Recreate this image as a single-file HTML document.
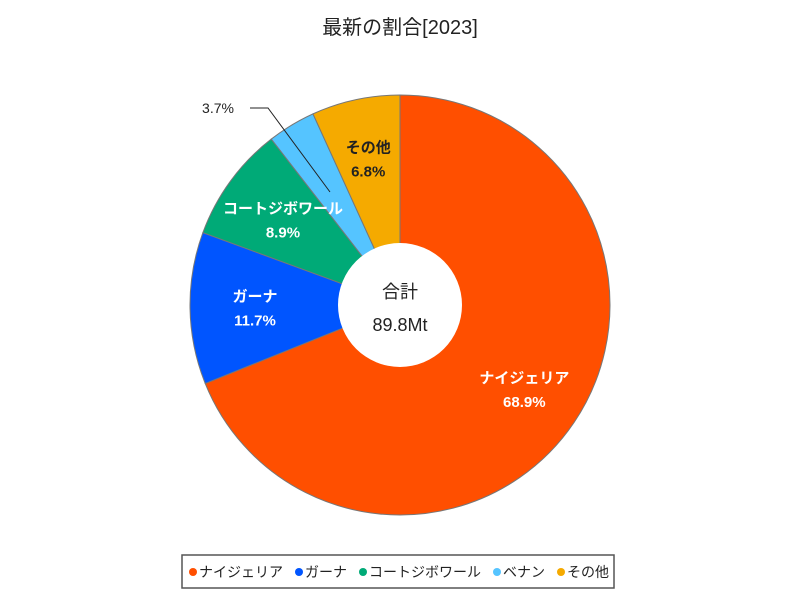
<!DOCTYPE html>
<html><head><meta charset="utf-8"><style>
body{margin:0;background:#fff;font-family:"Liberation Sans","Noto Sans CJK JP",sans-serif}
#wrap{position:relative;width:800px;height:600px}
</style></head><body><div id="wrap">
<svg id="svg" width="800" height="600">
<text x="400" y="34" text-anchor="middle" font-size="20" fill="#222">最新の割合[2023]</text>
<g id="slices"></g>
<circle cx="400" cy="305" r="62" fill="#fff"/>
<text x="400" y="298" text-anchor="middle" font-size="18" fill="#222">合計</text>
<text x="400" y="331" text-anchor="middle" font-size="18" fill="#222">89.8Mt</text>
<polyline points="250,108 268,108 330,192" fill="none" stroke="#222" stroke-width="1"/>
<text x="218" y="113" text-anchor="middle" font-size="14" fill="#222">3.7%</text>
<g id="labels"></g>
<rect x="182" y="555" width="432" height="33" fill="#fff" stroke="#555" stroke-width="1.5"/>
<g id="legend"></g>
</svg></div>
<script>
const categories=["ナイジェリア","ガーナ","コートジボワール","ベナン","その他"];
const values=[68.9,11.7,8.9,3.7,6.8];
const colors=["#ff4f00","#0055ff","#00aa77","#55c4ff","#f5aa00"];
const NS="http://www.w3.org/2000/svg";
const cx=400,cy=305,R=210;
const total=values.reduce((a,b)=>a+b,0);
function pt(a,r){return [cx+r*Math.sin(a),cy-r*Math.cos(a)];}
let acc=0;
const sg=document.getElementById('slices'),lg=document.getElementById('labels');
values.forEach((v,i)=>{
 const a0=acc/total*2*Math.PI;acc+=v;const a1=acc/total*2*Math.PI;
 const p0=pt(a0,R),p1=pt(a1,R);
 const p=document.createElementNS(NS,'path');
 p.setAttribute('d',`M${cx},${cy}L${p0[0]},${p0[1]}A${R},${R} 0 ${a1-a0>Math.PI?1:0} 1 ${p1[0]},${p1[1]}Z`);
 p.setAttribute('fill',colors[i]);p.setAttribute('stroke','#777');p.setAttribute('stroke-width','1');
 
 
 sg.appendChild(p);
 if(i===3)return;
 const am=(a0+a1)/2;const rr=i===0?150:(i===4?150:145);const c=pt(am,rr);
 const dark=i===4;
 [categories[i],v.toFixed(1)+'%'].forEach((s,j)=>{
  const t=document.createElementNS(NS,'text');
  t.setAttribute('x',c[0]);t.setAttribute('y',c[1]+(j?18:-6));
  t.setAttribute('text-anchor','middle');t.setAttribute('font-size','15');t.setAttribute('font-weight','bold');
  t.setAttribute('fill',dark?'#222':'#fff');t.textContent=s;
  
  
  lg.appendChild(t);
 });
});
const leg=document.getElementById('legend');let x=190;
categories.forEach((c,i)=>{
 const d=document.createElementNS(NS,'circle');
 d.setAttribute('cx',x+3);d.setAttribute('cy',572);d.setAttribute('r',4);d.setAttribute('fill',colors[i]);
 
 
 leg.appendChild(d);
 const t=document.createElementNS(NS,'text');
 t.setAttribute('x',x+9);t.setAttribute('y',577);t.setAttribute('font-size','14');t.setAttribute('fill','#222');t.textContent=c;
 
 
 leg.appendChild(t);
 x+=9+c.length*14+13;
});
</script></body></html>
